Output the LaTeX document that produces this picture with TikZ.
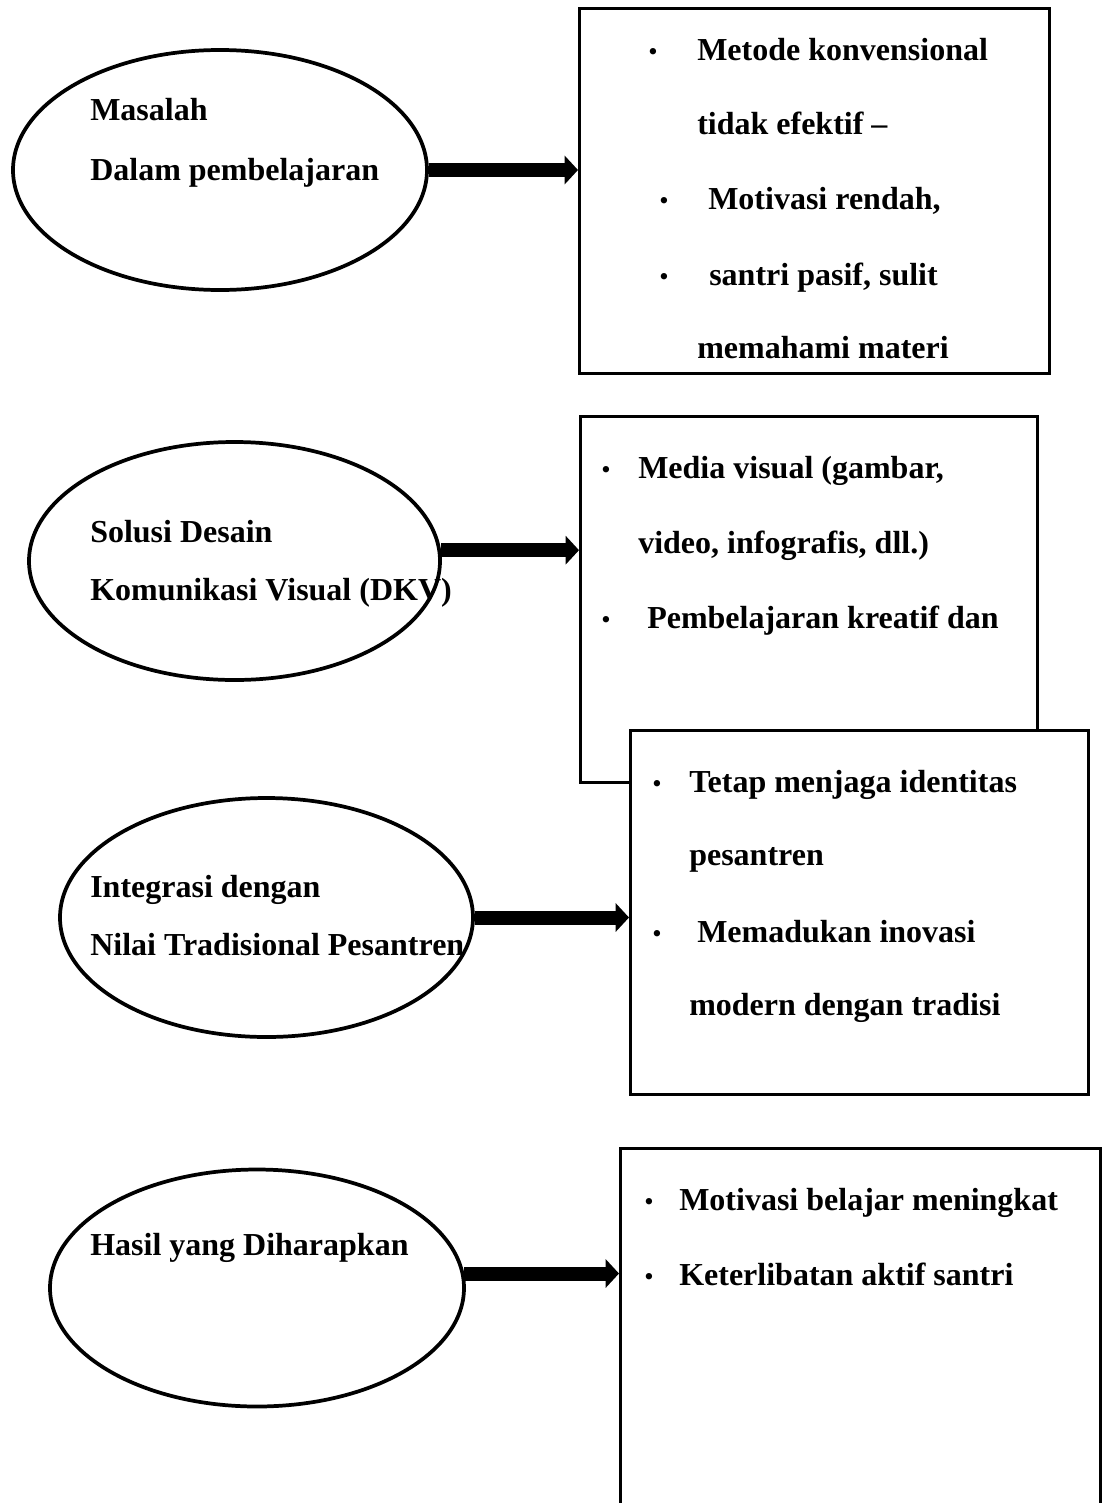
\documentclass[tikz,border=0pt]{standalone}
\usepackage{fontspec}
\setmainfont{Liberation Serif}
\usetikzlibrary{shapes.geometric,arrows.meta}

\begin{document}
\begin{tikzpicture}[x=0.75pt,y=0.75pt,yscale=-1,xscale=1,
  oval/.style={draw,ellipse,line width=2.8pt,inner sep=0pt},
  panel/.style={draw,rectangle,line width=2.4pt,anchor=north west,inner sep=0pt,fill=white},
  txt/.style={anchor=base west,inner sep=0pt,font=\fontsize{24}{28}\selectfont\bfseries},
  blt/.style={anchor=base,inner sep=0pt,font=\fontsize{20}{24}\selectfont},
  fatarrow/.style={line width=10.5pt,-{Triangle[length=10pt,width=21pt]}}]
 %set diagram size
 \useasboundingbox (0,0) rectangle (1101,1503);

 %Shape: Ellipse
 \node [oval,minimum width=310.5pt,minimum height=180pt] (masalah) at (220,170) {};
 %Shape: Ellipse
 \node [oval,minimum width=308.25pt,minimum height=178.5pt] (solusi) at (234.5,561) {};
 %Shape: Ellipse
 \node [oval,minimum width=309.75pt,minimum height=179.25pt] (integrasi) at (266.5,917.5) {};
 %Shape: Ellipse
 \node [oval,minimum width=310.5pt,minimum height=177.75pt] (hasil) at (257,1288) {};

 %Shape: Rectangle
 \node [panel,minimum width=352.5pt,minimum height=273.75pt] (boxMasalah) at (578,7) {};
 %Shape: Rectangle
 \node [panel,minimum width=342.75pt,minimum height=274.5pt] (boxSolusi) at (579,415) {};
 %Shape: Rectangle
 \node [panel,minimum width=343.5pt,minimum height=273pt] (boxIntegrasi) at (629,729) {};
 %Shape: Rectangle
 \node [panel,minimum width=360pt,minimum height=276pt] (boxHasil) at (619,1147) {};

 %Straight Lines
 \draw [fatarrow] (masalah.east) -- (masalah.east -| boxMasalah.west);
 %Straight Lines
 \draw [fatarrow] (solusi.3) -- (solusi.3 -| boxSolusi.west);
 %Straight Lines
 \draw [fatarrow] (integrasi.east) -- (integrasi.east -| boxIntegrasi.west);
 %Straight Lines
 \draw [fatarrow] (hasil.4) -- (hasil.4 -| boxHasil.west);

 % Text Node
 \node [txt] (m1) at (90,120) {Masalah};
 \node [txt] (m2) at (90,180) {Dalam pembelajaran};
 % Text Node
 \node [txt] (s1) at (90,542) {Solusi Desain};
 \node [txt] (s2) at (90,600) {Komunikasi Visual (DKV)};
 % Text Node
 \node [txt] (i1) at (90,897) {Integrasi dengan};
 \node [txt] (i2) at (90,955) {Nilai Tradisional Pesantren};
 % Text Node
 \node [txt] (h1) at (90,1255) {Hasil yang Diharapkan};

 % Text Node
 \node [blt] (bm1) at (653,60) {•};
 \node [txt] (tm1) at (697,60) {Metode konvensional};
 \node [txt] (tm2) at (697,134) {tidak efektif –};
 \node [blt] (bm2) at (664,209) {•};
 \node [txt] (tm3) at (708,209) {Motivasi rendah,};
 \node [blt] (bm3) at (664,285) {•};
 \node [txt] (tm4) at (709,285) {santri pasif, sulit};
 \node [txt] (tm5) at (697,358) {memahami materi};
 % Text Node
 \node [blt] (bs1) at (606,478) {•};
 \node [txt] (ts1) at (638,478) {Media visual (gambar,};
 \node [txt] (ts2) at (638,553) {video, infografis, dll.)};
 \node [blt] (bs2) at (606,628) {•};
 \node [txt] (ts3) at (647,628) {Pembelajaran kreatif dan};
 % Text Node
 \node [blt] (bi1) at (657,792) {•};
 \node [txt] (ti1) at (689,792) {Tetap menjaga identitas};
 \node [txt] (ti2) at (689,865) {pesantren};
 \node [blt] (bi2) at (657,942) {•};
 \node [txt] (ti3) at (697,942) {Memadukan inovasi};
 \node [txt] (ti4) at (689,1015) {modern dengan tradisi};
 % Text Node
 \node [blt] (bh1) at (649,1210) {•};
 \node [txt] (th1) at (679,1210) {Motivasi belajar meningkat};
 \node [blt] (bh2) at (649,1285) {•};
 \node [txt] (th2) at (679,1285) {Keterlibatan aktif santri};

\end{tikzpicture}
\end{document}
